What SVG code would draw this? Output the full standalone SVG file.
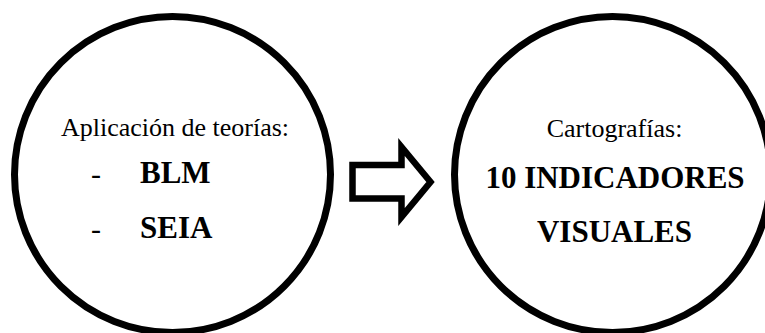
<svg xmlns="http://www.w3.org/2000/svg" width="765" height="333" viewBox="0 0 765 333">
  <style>
    .ring { fill: #ffffff; stroke: #000000; stroke-width: 7; }
    .reg { font-family: "Liberation Serif", "Times New Roman", serif; font-size: 26px; fill: #000000; }
    .dash { font-family: "Liberation Serif", "Times New Roman", serif; font-size: 30px; fill: #000000; }
    .bold { font-family: "Liberation Serif", "Times New Roman", serif; font-size: 31px; font-weight: bold; fill: #000000; }
    .arrow { fill: #ffffff; stroke: #000000; stroke-width: 6.5; stroke-linejoin: miter; stroke-miterlimit: 10; }
  </style>
  <rect width="765" height="333" fill="#ffffff"/>
  <g id="node-teorias">
    <circle class="ring" cx="172.5" cy="174.5" r="158"/>
    <text class="reg" x="175" y="136" text-anchor="middle">Aplicación de teorías:</text>
    <text class="dash" x="91" y="184">-</text>
    <text class="bold" x="140" y="183">BLM</text>
    <text class="dash" x="91" y="239">-</text>
    <text class="bold" x="140" y="238">SEIA</text>
  </g>
  <g id="node-cartografias">
    <circle class="ring" cx="612.5" cy="174.5" r="158"/>
    <text class="reg" x="614.5" y="137" text-anchor="middle">Cartografías:</text>
    <text class="bold" x="615" y="188" text-anchor="middle">10 INDICADORES</text>
    <text class="bold" x="614.5" y="242" text-anchor="middle">VISUALES</text>
  </g>
  <g id="connectors">
    <polygon class="arrow" points="352.5,165 401.5,165 401.5,147 430.5,182 401.5,217 401.5,198.5 352.5,198.5"/>
  </g>
</svg>
